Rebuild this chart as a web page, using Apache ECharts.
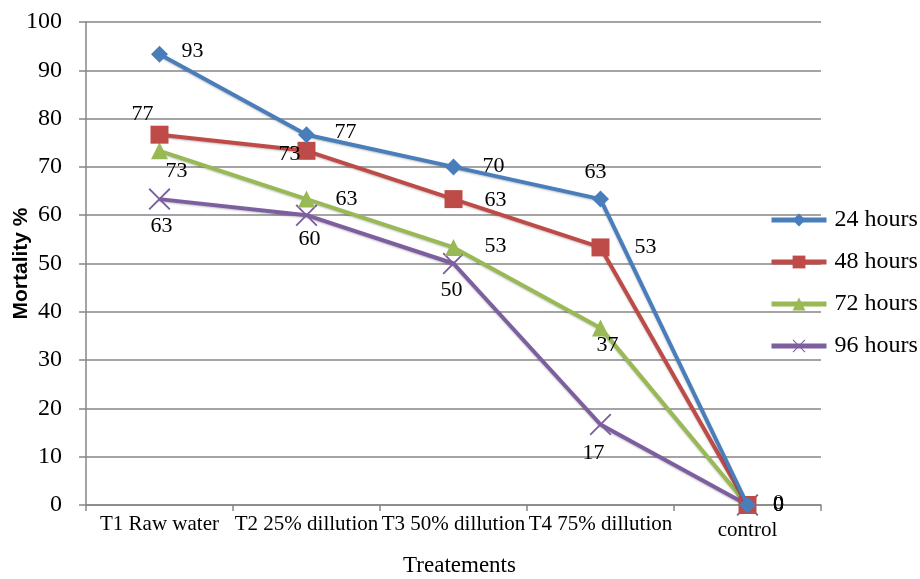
<!DOCTYPE html>
<html><head><meta charset="utf-8">
<script src="https://cdn.jsdelivr.net/npm/echarts@6/dist/echarts.min.js"></script>
<style>html,body{margin:0;padding:0;background:#fff}#c{width:920px;height:579px}</style>
</head><body><div id="c"></div>
<script>
const categories = ['T1 Raw water', 'T2 25% dillution', 'T3 50% dillution', 'T4 75% dillution', 'control'];
const seriesNames = ['24 hours', '48 hours', '72 hours', '96 hours'];
const h24 = [93.33, 76.67, 70, 63.33, 0];
const h48 = [76.67, 73.33, 63.33, 53.33, 0];
const h72 = [73.33, 63.33, 53.33, 36.67, 0];
const h96 = [63.33, 60, 50, 16.67, 0];
const yTicks = [0, 10, 20, 30, 40, 50, 60, 70, 80, 90, 100];

const colors = ['#4a7ebb', '#be4b48', '#98b954', '#7d5fa0'];
const xPath = 'path://M0,0.06 L0.06,0 L0.5,0.44 L0.94,0 L1,0.06 L0.56,0.5 L1,0.94 L0.94,1 L0.5,0.56 L0.06,1 L0,0.94 L0.44,0.5 Z';
const symbols = ['diamond', 'rect', 'triangle', xPath];
const symSizes = [17, 18, 17, 22];
const offsets = [
  [[33,-3],[39,-2],[40,-1],[-5,-27],[31,0]],
  [[-17,-20],[-17,3],[42,1],[45,0],[31,-2]],
  [[17,20],[40,0],[42,-1],[7,17],[31,0]],
  [[2,27],[3,24],[-2,27],[-7,29],[31,0]]
];
const allData = [h24, h48, h72, h96];
const serif = '"Liberation Serif", "Times New Roman", serif';

const series = allData.map((d, si) => ({
  name: seriesNames[si],
  type: 'line',
  data: d.map((v, i) => ({
    value: v,
    label: { offset: offsets[si][i] }
  })),
  symbol: symbols[si],
  symbolSize: symSizes[si],
  lineStyle: { color: colors[si], width: 4, shadowColor: 'rgba(0,0,0,0.25)', shadowBlur: 2, shadowOffsetY: 1 },
  itemStyle: { color: colors[si], borderWidth: 0 },
  label: {
    show: true,
    position: 'inside',
    formatter: p => Math.round(p.value),
    fontFamily: serif, fontSize: 22, color: '#000'
  },
  emphasis: { disabled: true },
  z: 10 - si
}));

const chart = echarts.init(document.getElementById('c'));
chart.setOption({
  animation: false,
  color: colors,
  grid: { left: 86, right: 99, top: 22, bottom: 74, containLabel: false, outerBoundsMode: 'none' },
  legend: {
    orient: 'vertical', left: 769, top: 208, padding: 0,
    itemWidth: 55, itemHeight: 16, itemGap: 18,
    lineStyle: { width: 5 },
    textStyle: { fontFamily: serif, fontSize: 24, color: '#000', padding: [0, 0, 0, 3] },
    data: seriesNames
  },
  xAxis: {
    type: 'category', data: categories, boundaryGap: true,
    name: 'Treatements', nameLocation: 'middle', nameGap: 49, nameMoveOverlap: false,
    nameTextStyle: { fontFamily: serif, fontSize: 23, color: '#000', padding: [0, 0, 0, 12] },
    axisLine: { lineStyle: { color: '#868686', width: 1.5 } },
    axisTick: { show: true, length: 6, lineStyle: { color: '#868686', width: 1.5 } },
    axisLabel: {
      fontFamily: serif, fontSize: 21, color: '#000', margin: 9, interval: 0,
      formatter: (v) => v === 'control' ? '{c|' + v + '}' : v,
      rich: { c: { fontFamily: serif, fontSize: 21, color: '#000', padding: [6, 0, 0, 0] } }
    },
    splitLine: { show: false }
  },
  yAxis: {
    type: 'value', min: 0, max: 100, interval: 10,
    name: 'Mortality %', nameLocation: 'middle', nameGap: 54, nameRotate: 90, nameMoveOverlap: false,
    nameTextStyle: { fontFamily: '"Liberation Sans", Arial, sans-serif', fontSize: 21, fontWeight: 'bold', color: '#000' },
    axisLine: { show: true, lineStyle: { color: '#868686', width: 1.5 } },
    axisTick: { show: true, length: 7, lineStyle: { color: '#868686', width: 1.5 } },
    axisLabel: { fontFamily: serif, fontSize: 24, color: '#000', margin: 24,
      formatter: v => yTicks.includes(v) ? String(v) : '' },
    splitLine: { show: true, lineStyle: { color: '#868686', width: 1.5 } }
  },
  series: series
});
</script>
</body></html>
